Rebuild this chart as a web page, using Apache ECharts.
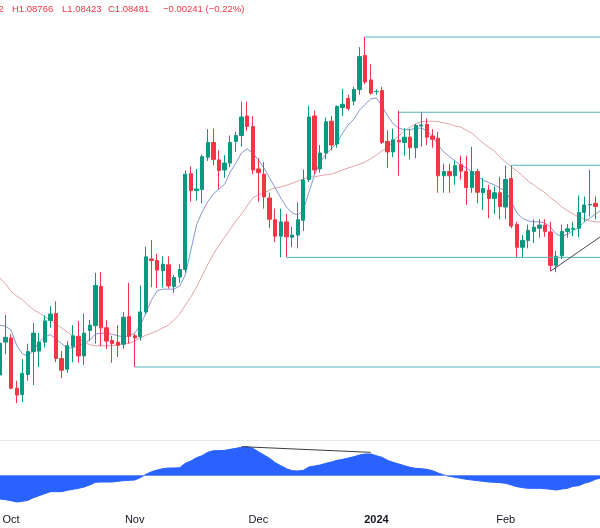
<!DOCTYPE html>
<html><head><meta charset="utf-8">
<script src="https://cdn.jsdelivr.net/npm/echarts@6/dist/echarts.min.js"></script>
<style>html,body{margin:0;padding:0;background:#fff}#c{width:600px;height:528px}</style>
</head><body><div id="c"></div>
<script>
const categories = [
'2023-09-28','2023-09-29',
'2023-10-02','2023-10-03','2023-10-04','2023-10-05','2023-10-06','2023-10-09','2023-10-10','2023-10-11','2023-10-12','2023-10-13',
'2023-10-16','2023-10-17','2023-10-18','2023-10-19','2023-10-20','2023-10-23','2023-10-24','2023-10-25','2023-10-26','2023-10-27','2023-10-30','2023-10-31',
'2023-11-01','2023-11-02','2023-11-03','2023-11-06','2023-11-07','2023-11-08','2023-11-09','2023-11-10','2023-11-13','2023-11-14','2023-11-15',
'2023-11-16','2023-11-17','2023-11-20','2023-11-21','2023-11-22','2023-11-23','2023-11-24','2023-11-27','2023-11-28','2023-11-29','2023-11-30',
'2023-12-01','2023-12-04','2023-12-05','2023-12-06','2023-12-07','2023-12-08','2023-12-11','2023-12-12','2023-12-13','2023-12-14','2023-12-15',
'2023-12-18','2023-12-19','2023-12-20','2023-12-21','2023-12-22','2023-12-25','2023-12-26','2023-12-27','2023-12-28','2023-12-29',
'2024-01-01','2024-01-02','2024-01-03','2024-01-04','2024-01-05','2024-01-08','2024-01-09','2024-01-10','2024-01-11','2024-01-12',
'2024-01-15','2024-01-16','2024-01-17','2024-01-18','2024-01-19','2024-01-22','2024-01-23','2024-01-24','2024-01-25','2024-01-26','2024-01-29','2024-01-30','2024-01-31',
'2024-02-01','2024-02-02','2024-02-05','2024-02-06','2024-02-07','2024-02-08','2024-02-09','2024-02-12','2024-02-13','2024-02-14','2024-02-15','2024-02-16',
'2024-02-19','2024-02-20','2024-02-21','2024-02-22','2024-02-23','2024-02-26'
];

const opens = [
1.0501,1.0563,1.0571,1.0476,1.0464,1.0502,1.0545,1.0546,1.0563,1.0604,
1.0617,1.0532,1.0512,1.0555,1.0574,1.0537,1.0585,1.0594,1.0668,1.0590,
1.0566,1.0563,1.0559,1.0611,1.0575,1.0573,1.0620,1.0720,1.0717,1.0698,
1.0709,1.0668,1.0686,1.0700,1.0881,1.0849,1.0851,1.0912,1.0940,1.0907,
1.0888,1.0901,1.0942,1.0953,1.0990,1.0970,1.0890,1.0880,1.0835,1.0794,
1.0763,1.0790,1.0761,1.0765,1.0793,1.0870,1.0990,1.0890,1.0920,1.0980,
1.0937,1.1006,1.1023,1.1018,1.1040,1.1104,1.1058,1.1036,1.1038,1.0942,
1.0922,1.0944,1.0940,1.0950,1.0930,1.0971,1.0974,1.0952,1.0948,1.0877,
1.0885,1.0877,1.0898,1.0885,1.0855,1.0885,1.0845,1.0850,1.0834,1.0845,
1.0818,1.0872,1.0785,1.0742,1.0755,1.0772,1.0778,1.0784,1.0771,1.0708,
1.0726,1.0772,1.0776,1.0778,1.0808,1.0822,1.0825
];
const highs = [
1.0576,1.0614,1.0578,1.0490,1.0531,1.0560,1.0599,1.0580,1.0614,1.0631,
1.0640,1.0546,1.0565,1.0595,1.0603,1.0617,1.0605,1.0694,1.0695,1.0605,
1.0575,1.0595,1.0620,1.0675,1.0579,1.0670,1.0743,1.0756,1.0730,1.0725,
1.0725,1.0690,1.0710,1.0887,1.0895,1.0890,1.0917,1.0965,1.0966,1.0925,
1.0916,1.0953,1.0960,1.1017,1.1017,1.0990,1.0910,1.0903,1.0845,1.0815,
1.0815,1.0805,1.0781,1.0827,1.0889,1.1009,1.1000,1.0935,1.0987,1.0990,
1.1010,1.1041,1.1030,1.1045,1.1120,1.1139,1.1088,1.1040,1.1045,1.0963,
1.0966,1.1000,1.0967,1.0965,1.0975,1.0998,1.0985,1.0965,1.0960,1.0900,
1.0900,1.0905,1.0915,1.0915,1.0932,1.0890,1.0873,1.0860,1.0857,1.0875,
1.0896,1.0897,1.0790,1.0765,1.0785,1.0795,1.0795,1.0795,1.0790,1.0735,
1.0785,1.0786,1.0790,1.0840,1.0838,1.0888,1.0838
];
const lows = [
1.0490,1.0540,1.0474,1.0448,1.0450,1.0490,1.0482,1.0516,1.0553,1.0590,
1.0525,1.0495,1.0505,1.0525,1.0524,1.0520,1.0565,1.0560,1.0555,1.0550,
1.0524,1.0535,1.0550,1.0560,1.0516,1.0566,1.0615,1.0667,1.0665,1.0666,
1.0664,1.0656,1.0675,1.0694,1.0828,1.0830,1.0825,1.0905,1.0897,1.0852,
1.0873,1.0893,1.0922,1.0932,1.0962,1.0880,1.0828,1.0815,1.0778,1.0752,
1.0723,1.0723,1.0742,1.0740,1.0773,1.0865,1.0880,1.0883,1.0908,1.0925,
1.0930,1.0990,1.1000,1.1010,1.1030,1.1050,1.1030,1.1030,1.0937,1.0892,
1.0912,1.0877,1.0915,1.0908,1.0910,1.0932,1.0935,1.0930,1.0845,1.0845,
1.0845,1.0860,1.0870,1.0822,1.0845,1.0825,1.0812,1.0797,1.0805,1.0795,
1.0795,1.0778,1.0723,1.0722,1.0740,1.0750,1.0760,1.0762,1.0697,1.0695,
1.0720,1.0760,1.0763,1.0761,1.0790,1.0800,1.0795
];
const closes = [
1.0561,1.0572,1.0476,1.0463,1.0504,1.0545,1.0580,1.0563,1.0603,1.0616,
1.0532,1.0510,1.0556,1.0575,1.0537,1.0580,1.0595,1.0670,1.0590,1.0565,
1.0560,1.0557,1.0610,1.0574,1.0571,1.0620,1.0724,1.0717,1.0699,1.0710,
1.0669,1.0685,1.0700,1.0880,1.0849,1.0852,1.0913,1.0940,1.0908,1.0887,
1.0901,1.0940,1.0953,1.0988,1.0970,1.0888,1.0883,1.0837,1.0795,1.0763,
1.0790,1.0762,1.0765,1.0794,1.0869,1.0988,1.0888,1.0920,1.0979,1.0935,
1.1008,1.1012,1.1004,1.1040,1.1102,1.1054,1.1033,1.1036,1.0940,1.0922,
1.0945,1.0941,1.0950,1.0930,1.0972,1.0973,1.0950,1.0946,1.0877,1.0885,
1.0877,1.0896,1.0886,1.0855,1.0885,1.0846,1.0853,1.0834,1.0845,1.0819,
1.0870,1.0782,1.0742,1.0755,1.0774,1.0780,1.0784,1.0772,1.0708,1.0725,
1.0772,1.0777,1.0778,1.0808,1.0822,1.0823,1.0819
];

const fastMA = [
1.0595,1.0593,1.0586,1.0557,1.0541,1.0537,1.0548,1.0563,1.0573,1.0577,
1.0569,1.0560,1.0552,1.0552,1.0556,1.0560,1.0567,1.0578,1.0580,1.0580,
1.0578,1.0575,1.0573,1.0575,1.0580,1.0595,1.0618,1.0643,1.0660,1.0663,
1.0663,1.0663,1.0669,1.0690,1.0737,1.0784,1.0809,1.0828,1.0843,1.0852,
1.0861,1.0884,1.0901,1.0920,1.0928,1.0920,1.0907,1.0892,1.0873,1.0854,
1.0835,1.0818,1.0807,1.0803,1.0812,1.0846,1.0879,1.0903,1.0917,1.0928,
1.0939,1.0958,1.0973,1.0984,1.1001,1.1012,1.1022,1.1024,1.1009,1.0990,
1.0975,1.0967,1.0964,1.0964,1.0967,1.0967,1.0962,1.0952,1.0935,1.0922,
1.0913,1.0905,1.0897,1.0892,1.0884,1.0875,1.0869,1.0864,1.0860,1.0854,
1.0848,1.0828,1.0807,1.0797,1.0792,1.0790,1.0790,1.0788,1.0780,1.0767,
1.0762,1.0767,1.0773,1.0780,1.0790,1.0797,1.0805,1.0812
];
const slowMA = [
1.0684,1.0673,1.0659,1.0650,1.0643,1.0633,1.0624,1.0618,1.0611,1.0605,
1.0597,1.0590,1.0582,1.0575,1.0569,1.0563,1.0558,1.0556,1.0556,1.0556,
1.0556,1.0558,1.0560,1.0561,1.0565,1.0571,1.0576,1.0580,1.0584,1.0590,
1.0595,1.0605,1.0616,1.0633,1.0648,1.0667,1.0688,1.0710,1.0729,1.0746,
1.0761,1.0776,1.0792,1.0805,1.0820,1.0835,1.0841,1.0845,1.0850,1.0854,
1.0856,1.0859,1.0863,1.0867,1.0871,1.0875,1.0875,1.0877,1.0879,1.0880,
1.0884,1.0888,1.0892,1.0895,1.0899,1.0903,1.0909,1.0916,1.0924,1.0929,
1.0943,1.0952,1.0962,1.0969,1.0975,1.0979,1.0980,1.0980,1.0979,1.0977,
1.0975,1.0971,1.0969,1.0963,1.0958,1.0948,1.0939,1.0931,1.0924,1.0912,
1.0903,1.0894,1.0886,1.0877,1.0867,1.0860,1.0852,1.0845,1.0835,1.0828,
1.0818,1.0811,1.0805,1.0799,1.0796,1.0792,1.0790,1.0790
];

const oscillator = [
-72,-74,-77,-81,-79,-76,-68,-62,-56,-50,
-50,-50,-46,-43,-40,-36,-30,-22,-21,-21,
-21,-19,-17,-16,-15,-8,2,10,15,19,
21,21,22,35,42,52,58,68,73,73,
74,77,80,83,85,80,70,60,50,37,
28,19,13,12,14,24,27,30,35,39,
44,47,51,55,60,63,63,58,53,44,
38,33,28,23,20,19,17,13,6,0,
-4,-7,-10,-13,-15,-17,-19,-21,-22,-23,
-25,-30,-35,-38,-40,-40,-40,-41,-43,-45,
-42,-40,-34,-32,-25,-20,-13,-9
];

// horizontal price levels: start bar index and price
const levelStart = [65, 71, 91, 51, 24];
const levelPrice = [1.1139, 1.0997, 1.0897, 1.0723, 1.0516];
// rising trend line (bar index, price)
const trendIdx = [98, 107];
const trendPrice = [1.0697, 1.0763];
// divergence line on oscillator (bar index, value)
const divIdx = [43, 66];
const divVal = [85, 68];

const tickIdx = [2, 24, 46, 67, 90];
const tickText = ['Oct', 'Nov', 'Dec', '2024', 'Feb'];

const candleData = categories.map((c, i) =>
  opens[i] === undefined ? '-' : [opens[i], closes[i], lows[i], highs[i]]);
const lastIdx = categories.length - 1;

const tickLabelOf = {};
tickIdx.forEach((ix, k) => { tickLabelOf[categories[ix]] = tickText[k]; });

const levelSeries = levelStart.map((s, k) => ({
  type: 'line', xAxisIndex: 0, yAxisIndex: 0, symbol: 'none', silent: true, z: 4,
  data: [[categories[s], levelPrice[k]], [categories[lastIdx], levelPrice[k]]],
  lineStyle: {color: '#4fb4b8', width: 1}
}));
const trendSeries = {
  type: 'line', xAxisIndex: 0, yAxisIndex: 0, symbol: 'none', silent: true, z: 4,
  data: [[categories[trendIdx[0]], trendPrice[0]], [categories[trendIdx[1]], trendPrice[1]]],
  lineStyle: {color: '#454a55', width: 1}
};
const divSeries = {
  type: 'line', xAxisIndex: 1, yAxisIndex: 1, symbol: 'none', silent: true, z: 5,
  data: [[categories[divIdx[0]], divVal[0]], [categories[divIdx[1]], divVal[1]]],
  lineStyle: {color: '#3a3d44', width: 1}
};

const font = '"Liberation Sans", Arial, sans-serif';
const chart = echarts.init(document.getElementById('c'), null, {renderer: 'canvas'});
chart.setOption({
  animation: false,
  backgroundColor: '#ffffff',
  grid: [
    {left: -3, width: 607, top: 0, height: 440, outerBoundsMode: 'none', containLabel: false},
    {left: -3, width: 607, top: 440, height: 70, outerBoundsMode: 'none', containLabel: false}
  ],
  xAxis: [
    {type: 'category', data: categories, gridIndex: 0, boundaryGap: true,
     axisLine: {show: true, lineStyle: {color: '#e6e8ee'}}, axisTick: {show: false},
     axisLabel: {show: false}, splitLine: {show: false}},
    {type: 'category', data: categories, gridIndex: 1, boundaryGap: true,
     axisLine: {show: false}, axisTick: {show: false}, splitLine: {show: false},
     axisLabel: {
       show: true, margin: 4, color: '#131722', fontSize: 11, fontFamily: font,
       interval: (index) => tickIdx.indexOf(index) >= 0,
       formatter: (v) => {
         const t = tickLabelOf[v] || '';
         return t === '2024' ? '{b|' + t + '}' : t;
       },
       rich: {b: {fontWeight: 'bold', fontSize: 11, color: '#131722', fontFamily: font}}
     }}
  ],
  yAxis: [
    {type: 'value', gridIndex: 0, min: 1.03782, max: 1.12089, scale: true,
     axisLine: {show: false}, axisTick: {show: false}, axisLabel: {show: false}, splitLine: {show: false}},
    {type: 'value', gridIndex: 1, min: -105, max: 105,
     axisLine: {show: false}, axisTick: {show: false}, axisLabel: {show: false}, splitLine: {show: false}}
  ],
  series: [
    {type: 'line', name: 'slow', xAxisIndex: 0, yAxisIndex: 0, data: slowMA,
     symbol: 'none', smooth: false, lineStyle: {color: '#e3a3a6', width: 1}, z: 2},
    {type: 'line', name: 'fast', xAxisIndex: 0, yAxisIndex: 0, data: fastMA,
     symbol: 'none', smooth: false, lineStyle: {color: '#8796d4', width: 1}, z: 2},
    {type: 'candlestick', name: 'EURUSD', xAxisIndex: 0, yAxisIndex: 0, data: candleData,
     barWidth: '68%', z: 3,
     itemStyle: {color: '#089981', color0: '#f23645', borderColor: '#089981', borderColor0: '#f23645', borderWidth: 1}},
    ...levelSeries,
    trendSeries,
    {type: 'line', name: 'osc', xAxisIndex: 1, yAxisIndex: 1, data: oscillator,
     symbol: 'none', smooth: false, lineStyle: {color: '#2962ff', width: 1},
     areaStyle: {color: '#2962ff', opacity: 1, origin: 0},
     markLine: {silent: true, symbol: ['none', 'none'], label: {show: false}, animation: false,
       data: [{yAxis: 0, lineStyle: {color: '#6d90f6', width: 1, type: 'solid'}}]}},
    divSeries
  ],
  graphic: [
    {type: 'text', x: 3.5, y: 9, style: {text: 'O1.08722', fill: '#f23645', font: '9.5px ' + font, textAlign: 'right', textVerticalAlign: 'middle'}},
    {type: 'text', x: 12, y: 9, style: {text: 'H1.08766', fill: '#f23645', font: '9.5px ' + font, textVerticalAlign: 'middle'}},
    {type: 'text', x: 62, y: 9, style: {text: 'L1.08423', fill: '#f23645', font: '9.5px ' + font, textVerticalAlign: 'middle'}},
    {type: 'text', x: 108, y: 9, style: {text: 'C1.08481', fill: '#f23645', font: '9.5px ' + font, textVerticalAlign: 'middle'}},
    {type: 'text', x: 163, y: 9, style: {text: '\u22120.00241 (\u22120.22%)', fill: '#f23645', font: '9.5px ' + font, textVerticalAlign: 'middle'}}
  ]
});
</script></body></html>
